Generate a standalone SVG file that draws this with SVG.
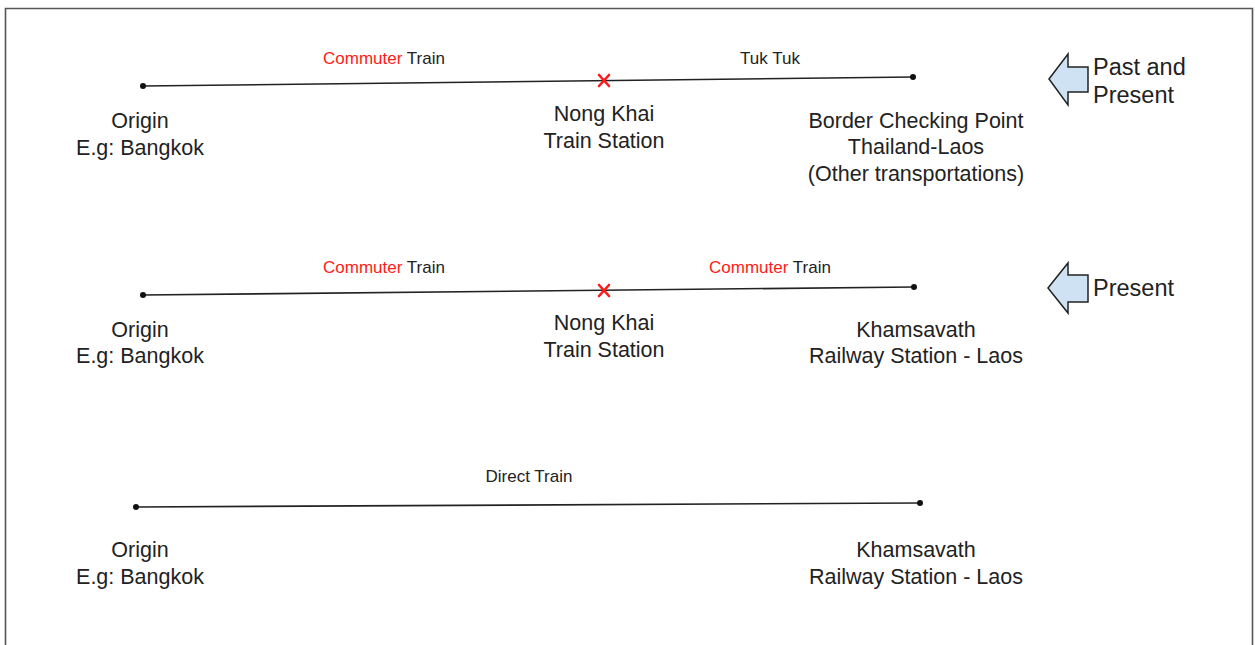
<svg xmlns="http://www.w3.org/2000/svg" width="1255" height="645" viewBox="0 0 1255 645">
<style>
.lbl{font-family:"Liberation Sans",Arial,sans-serif;font-size:21.5px;fill:#222;text-anchor:middle}
.edge{font-family:"Liberation Sans",Arial,sans-serif;font-size:17px;fill:#222;text-anchor:middle}
.red{fill:#ff1a1a}
.line{stroke:#222;stroke-width:1.6;fill:none}
.dot{fill:#111}
.xm{stroke:#ff1a1a;stroke-width:2.6;stroke-linecap:round}
.arrow{fill:#cfe2f3;stroke:#222;stroke-width:1.5;stroke-linejoin:miter}
.side{font-family:"Liberation Sans",Arial,sans-serif;font-size:23.5px;fill:#222}
</style>
<rect x="0" y="0" width="1255" height="645" fill="#fff"/>
<path d="M5.5 660 V8.5 H1252.5 V660" fill="none" stroke="#555" stroke-width="1.6"/>
<g id="connectors">
<line class="line" x1="143" y1="86" x2="913" y2="77"/>
<line class="line" x1="143" y1="295" x2="914" y2="287"/>
<line class="line" x1="136" y1="507" x2="920" y2="503"/>
<text class="edge" x="384" y="64"><tspan class="red">Commuter</tspan> Train</text>
<text class="edge" x="770" y="64">Tuk Tuk</text>
<text class="edge" x="384" y="273"><tspan class="red">Commuter</tspan> Train</text>
<text class="edge" x="770" y="273"><tspan class="red">Commuter</tspan> Train</text>
<text class="edge" x="529" y="482">Direct Train</text>
</g>
<g id="origin1"><circle class="dot" cx="143" cy="86" r="3"/><text class="lbl" x="140" y="128">Origin</text><text class="lbl" x="140" y="155">E.g: Bangkok</text></g>
<g id="nongkhai1"><path class="xm" d="M599 75 L609 86 M609 75 L599 86"/><text class="lbl" x="604" y="121">Nong Khai</text><text class="lbl" x="604" y="148">Train Station</text></g>
<g id="border1"><circle class="dot" cx="913" cy="77" r="3"/><text class="lbl" x="916" y="128">Border Checking Point</text><text class="lbl" x="916" y="154">Thailand-Laos</text><text class="lbl" x="916" y="181">(Other transportations)</text></g>
<g id="origin2"><circle class="dot" cx="143" cy="295" r="3"/><text class="lbl" x="140" y="337">Origin</text><text class="lbl" x="140" y="363">E.g: Bangkok</text></g>
<g id="nongkhai2"><path class="xm" d="M599 285 L609 296 M609 285 L599 296"/><text class="lbl" x="604" y="330">Nong Khai</text><text class="lbl" x="604" y="357">Train Station</text></g>
<g id="khamsavath2"><circle class="dot" cx="914" cy="287" r="3"/><text class="lbl" x="916" y="337">Khamsavath</text><text class="lbl" x="916" y="363">Railway Station - Laos</text></g>
<g id="origin3"><circle class="dot" cx="136" cy="507" r="3"/><text class="lbl" x="140" y="557">Origin</text><text class="lbl" x="140" y="584">E.g: Bangkok</text></g>
<g id="khamsavath3"><circle class="dot" cx="920" cy="503" r="3"/><text class="lbl" x="916" y="557">Khamsavath</text><text class="lbl" x="916" y="584">Railway Station - Laos</text></g>
<g id="pastpresent"><path class="arrow" d="M1049 79 L1068 54 V67 H1088 V92 H1068 V105 Z"/><text class="side" x="1093" y="75">Past and</text><text class="side" x="1093" y="103">Present</text></g>
<g id="present"><path class="arrow" d="M1048 288 L1068 263 V275 H1088 V302 H1068 V313 Z"/><text class="side" x="1093" y="296">Present</text></g>
</svg>
